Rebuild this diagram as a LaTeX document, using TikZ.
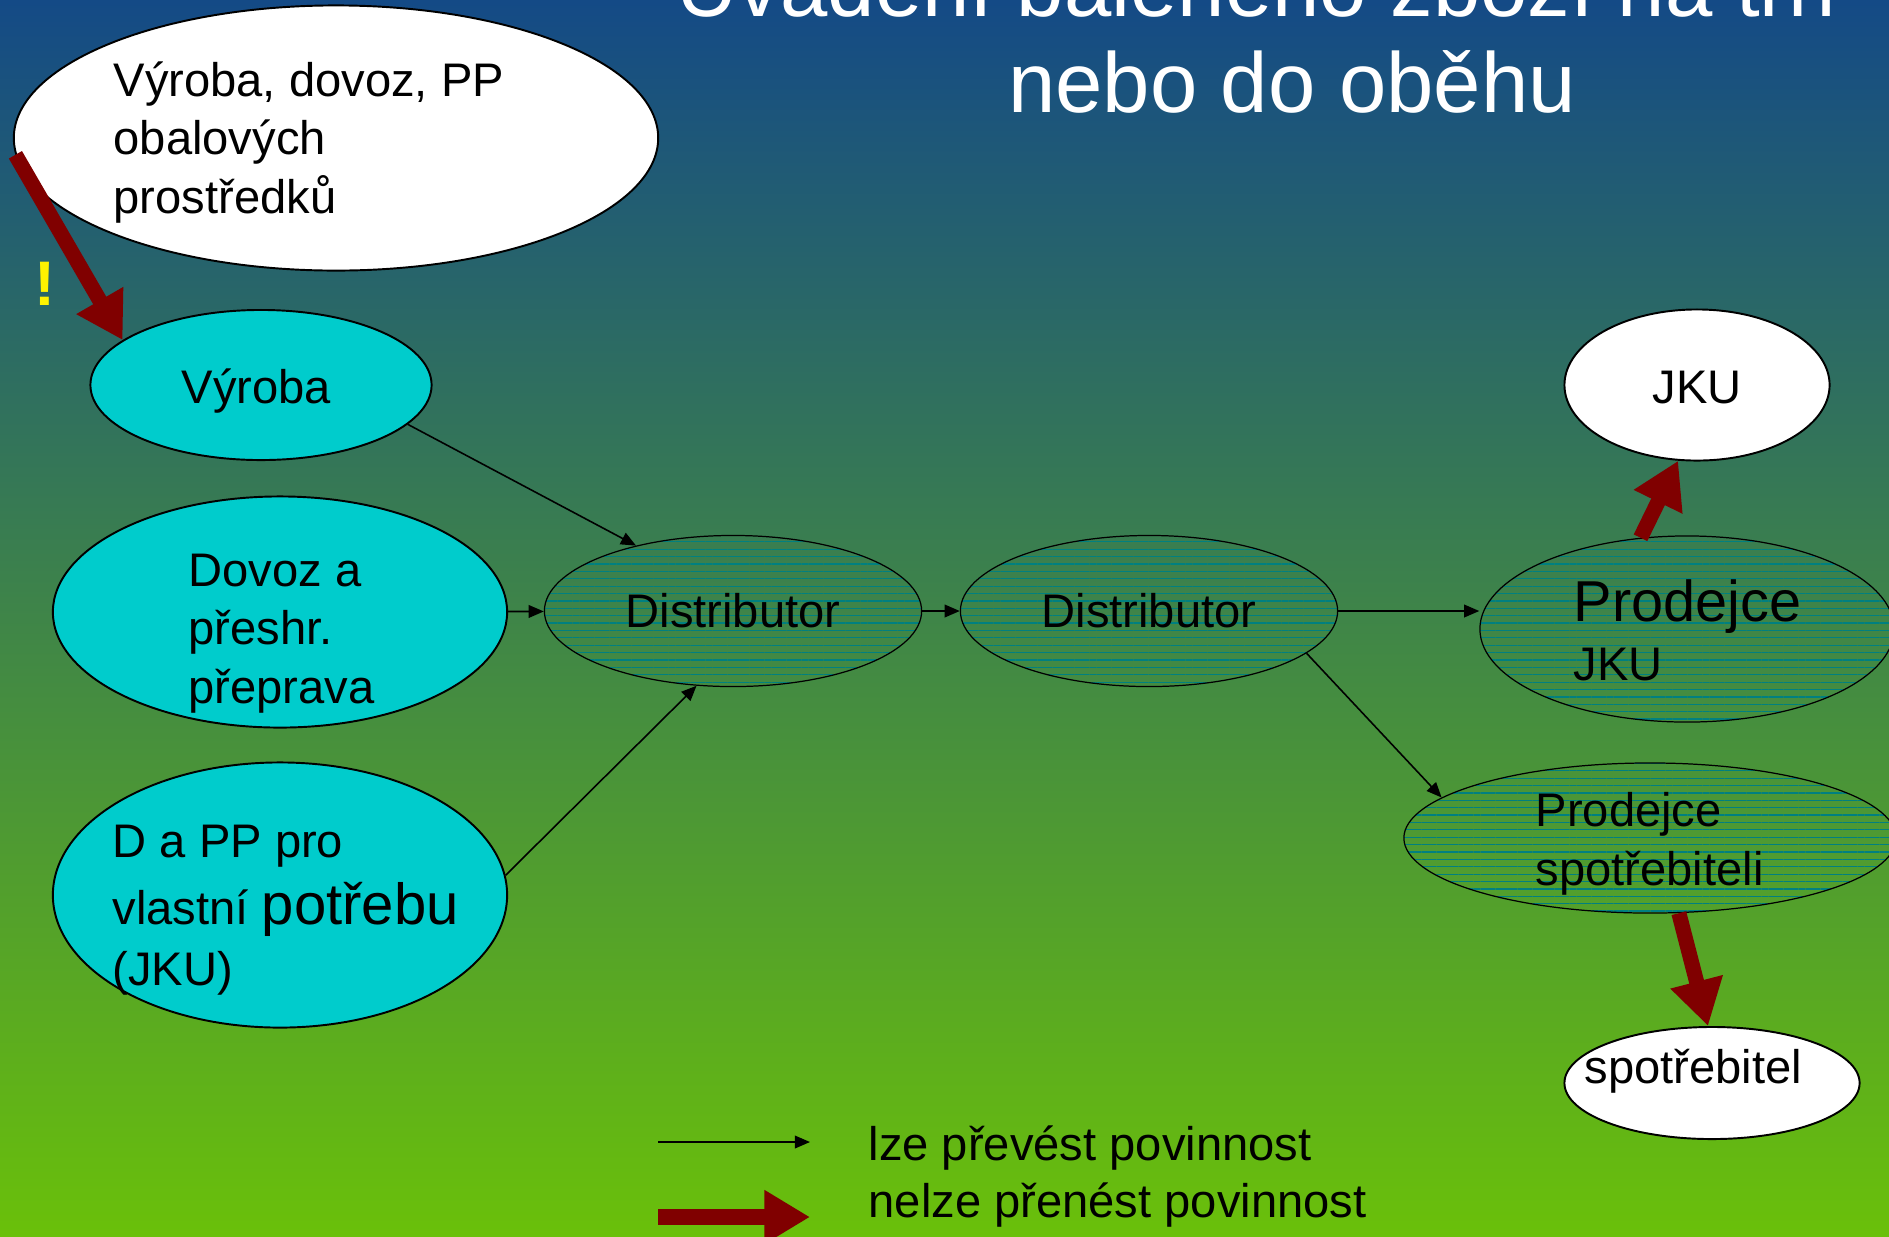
\documentclass[tikz,border=0pt]{standalone}
\usepackage{fontspec}
\setmainfont{Liberation Sans}
\usetikzlibrary{arrows.meta,shapes.geometric,patterns.meta}

\definecolor{bgtop}{RGB}{20,74,134}
\definecolor{bgmid}{RGB}{58,130,72}
\definecolor{bgbot}{RGB}{106,192,10}
\definecolor{boxcyan}{RGB}{0,204,204}
\definecolor{darkred}{RGB}{128,0,0}
\definecolor{hatchteal}{RGB}{0,128,128}

\begin{document}
\begin{tikzpicture}[x = 0.01cm, y = -0.01cm,
    whiteell/.style = {shape = ellipse, draw, line width = 0.55pt, fill = white, inner sep = 0pt},
    cyanell/.style = {shape = ellipse, draw, line width = 0.55pt, fill = boxcyan, inner sep = 0pt},
    hatchell/.style = {shape = ellipse, draw, line width = 0.35pt, inner sep = 0pt,
        pattern = {Lines[angle = 0, distance = 2.1pt, line width = 0.35pt]}, pattern color = hatchteal},
    lbl/.style = {inner sep = 0pt, anchor = base west, align = left, font = \fontsize{13.4}{16.5}\selectfont},
    passarrow/.style = {line width = 0.45pt, -{Triangle[length = 4.3pt, width = 3.6pt]}},
    keeparrow/.style = {line width = 4.3pt, darkred, -{Triangle[length = 13pt, width = 14.5pt]}}]
    \useasboundingbox (0,0) rectangle (1889,1236);
    \clip (0,0) rectangle (1889,1236);
    \shade[top color = bgtop, middle color = bgmid, bottom color = bgbot] (0,0) rectangle (1889,1236);

    % title, cut at the top
    \node[font = \fontsize{24.2}{28}\selectfont, text = white, anchor = base, inner sep = 0pt] (title1) at (1256,16) {Uvádění baleného zboží na trh};
    \node[font = \fontsize{24.2}{28}\selectfont, text = white, anchor = base, inner sep = 0pt] (title2) at (1292,112) {nebo do oběhu};

    % ellipses
    \node[whiteell, minimum width = 6.44cm, minimum height = 2.65cm] (obal) at (336,138) {};
    \node[cyanell, minimum width = 3.41cm, minimum height = 1.50cm] (vyroba) at (261,385) {};
    \node[cyanell, minimum width = 4.54cm, minimum height = 2.31cm] (dovoz) at (280,612) {};
    \node[cyanell, minimum width = 4.54cm, minimum height = 2.65cm] (vlastni) at (280,895) {};
    \node[hatchell, minimum width = 3.77cm, minimum height = 1.51cm] (dist1) at (733,611) {};
    \node[hatchell, minimum width = 3.77cm, minimum height = 1.51cm] (dist2) at (1149,611) {};
    \node[hatchell, minimum width = 4.14cm, minimum height = 1.86cm] (prodjku) at (1687,629) {};
    \node[hatchell, minimum width = 4.92cm, minimum height = 1.50cm] (prodspot) at (1650,838) {};
    \node[whiteell, minimum width = 2.65cm, minimum height = 1.51cm] (jku) at (1697,385) {};
    \node[whiteell, minimum width = 2.95cm, minimum height = 1.12cm] (spotr) at (1712,1083) {};

    % texts (multi-line ones sit on their last line)
    \node[lbl] (obaltext) at (113,213) {Výroba, dovoz, PP\\obalových\\prostředků};
    \node[lbl] (vyrobatext) at (181,403) {Výroba};
    \node[lbl] (dovoztext) at (188,703) {Dovoz a\\přeshr.\\přeprava};
    \node[lbl] (vlastnitext) at (112,985) {D a PP pro\\[2.8pt]vlastní {\fontsize{16.5}{16.5}\selectfont potřebu}\\[0.6pt](JKU)};
    \node[lbl, anchor = base] (dist1text) at (733,627) {Distributor};
    \node[lbl, anchor = base] (dist2text) at (1149,627) {Distributor};
    \node[lbl] (prodjkutext) at (1573,680) {{\fontsize{16.4}{16.5}\selectfont Prodejce}\\JKU};
    \node[lbl] (prodspottext) at (1535,885) {Prodejce\\spotřebiteli};
    \node[lbl, anchor = base] (jkutext) at (1697,403) {JKU};
    \node[lbl] (spotrtext) at (1584,1083) {spotřebitel};
    \node[font = \bfseries\fontsize{17.9}{20}\selectfont, text = yellow, anchor = base, inner sep = 0pt] (excl) at (45,305) {!};

    % connectors
    \draw[keeparrow] (obal.183) -- (vyroba.162);
    \draw[passarrow] (vyroba.-15) -- (dist1.146);
    \draw[passarrow] (dovoz) -- (dist1);
    \draw[passarrow] (vlastni.5) -- (dist1.244);
    \draw[passarrow] (dist1) -- (dist2);
    \draw[passarrow] (dist2.east) -- (dist2.east -| prodjku.west);
    \draw[passarrow] (dist2.-15) -- (prodspot.169);
    \draw[keeparrow] (prodjku.117) -- (jku.256);
    \draw[keeparrow] (prodspot.-69) -- (spotr.94);

    % legend
    \coordinate (passstart) at (658,1142);
    \coordinate (passend) at (810,1142);
    \draw[passarrow] (passstart) -- (passend);
    \node[lbl] (passtext) at (868,1160) {lze převést povinnost};
    \coordinate (keepstart) at (658,1217);
    \coordinate (keepend) at (810,1217);
    \draw[keeparrow] (keepstart) -- (keepend);
    \node[lbl] (keeptext) at (868,1217) {nelze přenést povinnost};
\end{tikzpicture}
\end{document}
